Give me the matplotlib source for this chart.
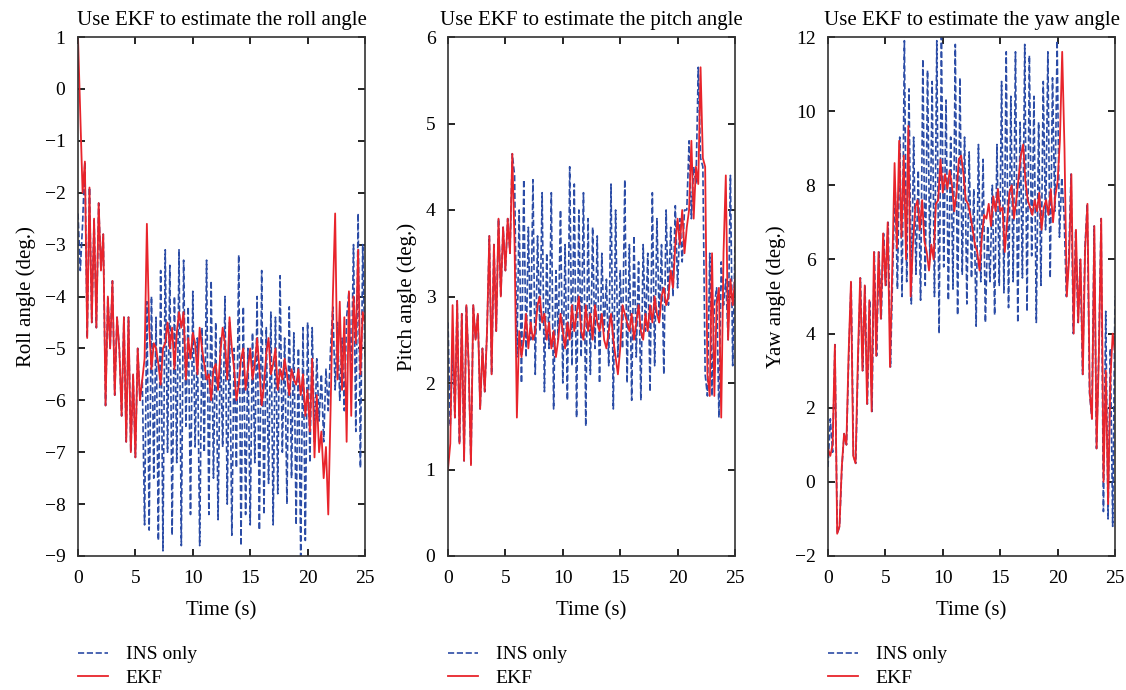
import numpy as np
import matplotlib
matplotlib.use('Agg')
import matplotlib.pyplot as plt
#=============================================================================
# EKF vs INS-only attitude estimates (roll / pitch / yaw), 0..25 s, dt = 0.2 s
plt.rcParams['font.family'] = ['Liberation Serif', 'DejaVu Serif']
plt.rcParams['font.size']   = 15

_BLUE = '#2b4ca6'
_RED  = '#e8242b'

ROLL_EKF = [1.0, -0.5, -2.0, -1.4, -4.8, -1.9, -4.5, -2.5, -4.6, -2.2,
            -3.5, -2.8, -6.1, -4.0, -5.0, -3.7, -5.9, -4.4, -5.0, -6.3,
            -4.4, -6.8, -4.4, -7.0, -5.5, -7.1, -5.0, -6.0, -5.6, -5.2,
            -2.6, -4.6, -5.4, -4.9, -5.0, -5.3, -5.7, -5.0, -4.9, -4.5,
            -5.0, -4.6, -5.4, -4.7, -4.3, -4.6, -4.3, -5.6, -4.8, -5.2,
            -4.7, -4.9, -5.5, -4.6, -5.0, -5.3, -5.6, -5.5, -6.0, -5.4,
            -5.3, -5.8, -5.1, -4.6, -4.9, -5.6, -4.4, -5.0, -5.4, -6.0,
            -5.7, -5.2, -5.0, -5.8, -5.4, -5.0, -5.6, -5.3, -4.8, -5.4,
            -6.1, -5.7, -5.1, -4.8, -5.5, -5.3, -5.0, -5.8, -5.4, -5.6,
            -5.2, -5.5, -5.9, -5.4, -5.6, -5.7, -5.4, -5.9, -5.5, -6.3,
            -5.8, -6.6, -5.2, -7.1, -5.9, -7.0, -6.6, -7.5, -6.9, -8.2,
            -6.2, -4.0, -2.4, -5.6, -4.1, -5.8, -4.4, -6.8, -3.9, -6.3,
            -4.0, -4.9, -3.1, -5.5, -4.3, -4.5]

ROLL_INS = [-2.4, -3.5, -2.6, -1.4, -4.8, -1.9, -4.5, -2.5, -4.6, -2.2,
            -3.5, -2.8, -6.1, -4.0, -5.0, -3.7, -5.9, -4.4, -5.0, -6.3,
            -4.4, -6.8, -4.4, -7.0, -5.5, -7.1, -5.0, -6.0, -5.6,
            -8.4, -4.1, -8.5, -4.0, -7.5, -4.4, -8.7, -3.5, -8.9, -3.1,
            -7.0, -3.4, -8.6, -4.0, -7.2, -3.1, -8.8, -3.3, -6.5, -4.2,
            -8.2, -3.9, -6.9, -4.8, -8.8, -4.6, -7.0, -3.3, -8.2, -3.7,
            -7.5, -4.5, -8.3, -4.8, -6.9, -4.0, -8.0, -4.5, -8.6, -5.0,
            -7.3, -3.2, -8.8, -4.2, -8.2, -5.0, -8.4, -4.7, -7.2, -4.0,
            -8.5, -3.5, -8.2, -4.6, -7.6, -4.3, -8.4, -4.4, -7.8, -3.6,
            -7.0, -4.8, -8.0, -4.2, -7.5, -4.7, -8.4, -5.0, -9.0, -4.6,
            -8.7, -4.5, -7.2, -4.6, -6.8, -5.2, -6.4, -5.5, -6.8, -5.4,
            -6.2, -5.0, -4.2, -5.8, -4.5, -6.0, -4.8, -6.2, -4.4, -3.9,
            -5.6, -3.0, -6.6, -2.4, -7.3, -3.0, -5.2]

PITCH_EKF = [1.0, 1.3, 2.9, 1.6, 2.95, 1.3, 2.8, 1.1, 2.9, 2.2,
             1.05, 2.9, 2.5, 2.8, 1.7, 2.4, 1.9, 2.6, 3.7, 2.1,
             3.6, 2.6, 3.9, 3.0, 3.8, 3.3, 3.9, 3.5, 4.65, 3.6,
             1.6, 2.6, 2.3, 2.5, 2.8, 2.4, 2.7, 2.5, 2.6, 2.9,
             3.0, 2.7, 2.8, 2.5, 2.7, 2.4, 2.6, 2.3, 2.5, 2.8,
             2.6, 2.4, 2.7, 2.5, 2.9, 2.6, 2.8, 3.0, 2.6, 2.5,
             2.9, 2.6, 2.8, 2.5, 2.9, 2.7, 2.6, 2.8, 2.5, 2.4,
             2.6, 2.8, 2.5, 2.3, 2.1, 2.4, 2.9, 2.8, 2.7, 2.6,
             2.8, 2.5, 2.7, 2.9, 2.6, 2.5, 2.8, 2.6, 2.9, 2.7,
             3.0, 2.8, 2.7, 3.0, 3.1, 2.9, 3.0, 3.3, 3.1, 3.6,
             3.9, 3.6, 4.0, 3.5, 3.8, 4.0, 4.8, 3.9, 4.5, 4.3,
             5.65, 4.6, 4.5, 2.1, 1.85, 3.5, 1.85, 2.9, 3.1, 1.6,
             3.5, 4.4, 2.5, 3.2, 2.9, 3.2]

PITCH_INS = [2.7, 1.5, 2.4, 1.6, 2.95, 1.3, 2.8, 1.1, 2.9, 2.2,
             1.05, 2.9, 2.5, 2.8, 1.7, 2.4, 1.9, 2.6, 3.7, 2.1,
             3.6, 2.6, 3.9, 3.0, 3.8, 3.3, 3.9, 3.5, 4.65,
             4.4, 2.3, 4.0, 2.0, 4.35, 2.3, 3.8, 2.5, 4.35, 2.1,
             3.7, 2.6, 4.2, 1.9, 3.5, 2.4, 4.2, 1.7, 3.3, 2.5,
             4.0, 2.0, 3.6, 1.8, 4.5, 2.2, 4.3, 1.6, 4.0, 2.3,
             4.2, 1.5, 3.9, 2.1, 3.8, 2.4, 3.7, 2.0, 3.5, 2.6,
             3.2, 2.2, 4.3, 1.7, 4.0, 2.3, 3.3, 2.4, 4.35, 2.0,
             3.6, 1.8, 3.7, 2.3, 3.4, 1.8, 3.6, 2.6, 3.5, 1.9,
             4.2, 2.2, 3.9, 2.7, 3.6, 2.1, 4.0, 2.9, 3.8, 3.0,
             4.05, 3.1, 3.9, 3.4, 4.0, 4.0, 4.8, 3.9, 4.5, 4.3,
             5.65, 4.6, 4.5, 2.1, 1.85, 3.5, 1.85, 2.9, 3.1, 1.6,
             3.4, 2.9, 3.2, 2.5, 4.4, 2.2, 3.6]

YAW_EKF = [0.9, 0.7, 1.0, 3.7, -1.4, -1.2, 0.4, 1.3, 1.0, 3.5,
           5.4, 0.7, 0.5, 3.3, 5.5, 3.0, 5.3, 2.1, 4.9, 1.9,
           6.2, 3.4, 6.2, 4.4, 6.7, 5.3, 7.0, 3.1, 5.8, 8.6,
           6.3, 9.2, 6.6, 8.8, 6.0, 9.6, 5.0, 6.4, 7.4, 7.6,
           6.8, 7.6, 6.5, 6.2, 5.7, 6.4, 6.0, 7.5, 7.6, 8.7,
           7.8, 8.3, 7.9, 8.4, 8.0, 7.3, 7.8, 8.7, 8.8, 8.3,
           7.6, 7.5, 7.2, 6.8, 6.4, 6.2, 5.7, 6.6, 7.2, 7.1,
           7.5, 6.9, 7.7, 7.3, 7.9, 7.3, 7.4, 6.2, 7.0, 7.8,
           8.0, 7.1, 7.6, 8.2, 8.8, 9.1, 8.1, 7.6, 7.4, 7.2,
           7.6, 7.3, 7.8, 6.8, 7.4, 7.6, 7.2, 7.9, 7.0, 7.7,
           8.1, 9.2, 11.6, 9.0, 5.0, 6.0, 8.3, 4.0, 6.8, 4.3,
           6.0, 2.9, 6.3, 7.5, 2.4, 1.7, 6.9, 0.9, 3.5, 7.1,
           0.0, 3.0, -0.6, 2.8, 4.0, 3.5]

YAW_INS = [0.4, 1.7, 0.8, 3.7, -1.4, -1.2, 0.4, 1.3, 1.0, 3.5,
           5.4, 0.7, 0.5, 3.3, 5.5, 3.0, 5.3, 2.1, 4.9, 1.9,
           6.2, 3.4, 6.2, 4.4, 6.7, 5.3, 7.0, 3.1, 5.8,
           8.0, 5.2, 9.3, 5.0, 11.9, 5.4, 10.6, 4.8, 9.3, 5.6,
           8.4, 4.9, 11.4, 5.3, 11.1, 6.0, 10.8, 5.0, 11.9, 4.0,
           12.0, 5.8, 10.3, 4.9, 9.3, 5.2, 11.8, 4.5, 10.9, 5.6,
           9.3, 4.8, 8.9, 5.5, 7.9, 4.2, 9.1, 5.4, 8.7, 4.3,
           6.9, 5.4, 8.0, 4.5, 9.1, 5.3, 10.8, 5.1, 11.6, 4.7,
           10.4, 5.4, 11.6, 4.3, 9.7, 5.5, 11.8, 4.6, 11.5, 6.1,
           10.4, 4.3, 9.7, 5.3, 10.8, 6.8, 11.6, 5.5, 10.9, 7.3,
           11.9, 6.6, 8.2, 7.2, 5.0, 6.0, 8.3, 4.0, 6.8, 4.3,
           6.0, 2.9, 6.3, 7.5, 2.4, 1.7, 6.9, 0.9, 3.5, 7.1,
           -0.8, 4.6, -1.0, 3.6, -1.2, 5.0]

TITLES  = ['Use EKF to estimate the roll angle',
           'Use EKF to estimate the pitch angle',
           'Use EKF to estimate the yaw angle']
YLABELS = ['Roll angle (deg.)', 'Pitch angle (deg.)', 'Yaw angle (deg.)']
YLIMS   = [(-9, 1), (0, 6), (-2, 12)]
YTICKS  = [np.arange(-9, 2, 1), np.arange(0, 7, 1), np.arange(-2, 13, 2)]
XTICKS  = [0, 5, 10, 15, 20, 25]

#-----------------------------------------------------------------------------
def plot_panel(ax, ins, ekf, title, ylabel, ylim, yticks):
    t_ins = np.linspace(0, 25, len(ins))
    t_ekf = np.linspace(0, 25, len(ekf))

    ax.plot(t_ins, ins, '--', color=_BLUE, lw=1.2, label='INS only')
    ax.plot(t_ekf, ekf, '-',  color=_RED,  lw=1.3, label='EKF')

    ax.set_xlim(0, 25)
    ax.set_ylim(*ylim)
    ax.set_xticks(XTICKS)
    ax.set_yticks(yticks)
    ax.tick_params(direction='in', top=True, right=True, length=5, width=1.2,
                   labelsize=14)
    ax.tick_params(axis='x', pad=10)
    ax.tick_params(axis='y', pad=9)
    for s in ax.spines.values():
        s.set_linewidth(1.2)
        s.set_color('#333333')

    ax.set_title(title, fontsize=15, pad=9)
    ax.set_xlabel('Time (s)', fontsize=15, labelpad=10)
    ax.set_ylabel(ylabel, fontsize=15, labelpad=6)

    ax.legend(loc='upper left', bbox_to_anchor=(0.0, -0.173), frameon=False,
              borderaxespad=0, borderpad=0, handlelength=1.55, handletextpad=0.9,
              labelspacing=0.29, fontsize=14)
#-----------------------------------------------------------------------------
fig = plt.figure(figsize=(11.26, 6.9), dpi=100)

lefts = [78/1126., 448/1126., 828/1126.]
data  = [(ROLL_INS, ROLL_EKF), (PITCH_INS, PITCH_EKF), (YAW_INS, YAW_EKF)]

for i in range(3):
    ax = fig.add_axes([lefts[i], 1 - 556/690., 287/1126., 519/690.])
    plot_panel(ax, data[i][0], data[i][1], TITLES[i], YLABELS[i], YLIMS[i], YTICKS[i])

fig.savefig('out.png', dpi=100)
